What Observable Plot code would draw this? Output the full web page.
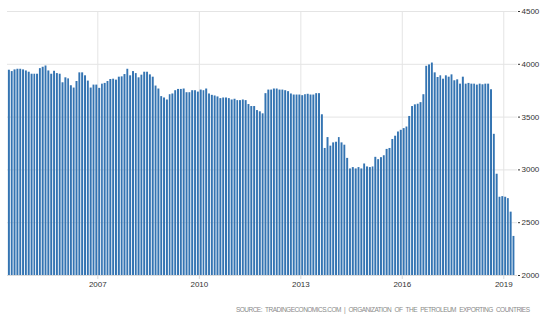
<!DOCTYPE html>
<html><head><meta charset="utf-8">
<script src="https://cdn.jsdelivr.net/npm/d3@7"></script>
<script src="https://cdn.jsdelivr.net/npm/@observablehq/plot@0.6"></script>
<style>
body{margin:0;background:#fff;}
#chart{position:relative;width:550px;height:324px;font-family:"Liberation Sans",Arial,sans-serif;}
#chart svg{display:block;}
</style>
</head><body><div id="chart"></div>
<script>
// Monthly values, first bar = May 2004, last bar = April 2019
const firstMonth = "2004-05-01";
const values2004to2009 = [
  3944,3931,3947,3953,3953,3947,3937,3925,3906,3906,
  3906,3959,3972,3984,3937,3906,3934,3912,3906,3825,
  3872,3862,3797,3775,3837,3919,3919,3891,3841,3775,
  3803,3803,3772,3812,3819,3837,3856,3859,3850,3878,
  3881,3903,3953,3891,3931,3912,3872,3897,3925,3925,
  3900,3878,3794,3766,3694,3681,3662,3712,3719,3750,
  3762,3762
];
const values2009to2013 = [
  3766,3731,3731,3750,3750,3737,3756,3750,3766,3719,
  3706,3700,3691,3675,3681,3681,3675,3662,3669,3656,
  3656,3662,3656,3619,3600,3600,3562,3550,3531,3722,
  3756,3756,3766,3766,3756,3756,3750,3741,3719,3709,
  3709,3709,3703,3712,3716,3709,3709,3722,3722
];
const values2013to2016 = [
  3522,3203,3306,3225,3256,3262,3306,3256,3234,3109,
  3009,3022,3009,3022,3009,3056,3028,3022,3028,3119,
  3097,3116,3134,3194,3203,3288,3319,3359,3375,3391,
  3406,3506,3600,3616,3622,3637,3712
];
const values2016to2019 = [
  3981,3994,4012,3919,3875,3891,3859,3891,3878,3900,
  3844,3853,3812,3878,3812,3819,3812,3812,3803,3812,
  3806,3812,3812,3759,3337,2959,2741,2747,2741,2728,
  2600,2370
];
const yTicks = [2000,2500,3000,3500,4000,4500];
const xTickYears = [2007,2010,2013,2016,2019];
const xDomain = ["2004-05-01","2019-05-29"];
const source = "SOURCE: TRADINGECONOMICS.COM | ORGANIZATION OF THE PETROLEUM EXPORTING COUNTRIES";

const values = [...values2004to2009, ...values2009to2013, ...values2013to2016, ...values2016to2019];
const start = new Date(firstMonth);
const data = values.map((v, i) => ({date: d3.utcMonth.offset(start, i), value: v}));
const xTicks = xTickYears.map(y => new Date(Date.UTC(y, 0, 1)));

const plot = Plot.plot({
  width: 550, height: 296,
  marginTop: 11, marginBottom: 21, marginLeft: 7, marginRight: 33,
  style: {fontFamily: '"Liberation Sans", Arial, sans-serif', fontSize: "8px", color: "#333", background: "#fff"},
  x: {type: "utc", domain: xDomain.map(d => new Date(d))},
  y: {domain: [yTicks[0], yTicks[yTicks.length - 1]]},
  marks: [
    Plot.gridY(yTicks, {stroke: "#e4e4e4", strokeOpacity: 1}),
    Plot.gridX(xTicks, {stroke: "#e4e4e4", strokeOpacity: 1}),
    Plot.rectY(data, {
      x1: "date", x2: d => d3.utcMonth.offset(d.date, 1), y: "value",
      fill: "#3474b2", insetLeft: 0.9, insetRight: 0, clip: true
    }),
    Plot.ruleY([yTicks[0]], {stroke: "#dcdcdc"}),
    Plot.axisY(yTicks, {anchor: "right", tickSize: 2, tickPadding: 2, stroke: "#333", fill: "#333", tickFormat: "d", label: null}),
    Plot.axisX(xTicks, {tickSize: 4, tickPadding: 2, stroke: "#d8d8d8", fill: "#333", tickFormat: d3.utcFormat("%Y"), label: null})
  ]
});
const chart = document.getElementById("chart");
chart.appendChild(plot);

const cap = d3.select(chart).append("svg").attr("width", 550).attr("height", 28);
cap.append("text")
  .attr("x", 530).attr("y", 16)
  .attr("text-anchor", "end")
  .attr("font-family", '"Liberation Sans", Arial, sans-serif')
  .attr("font-size", 6.5)
  .attr("word-spacing", 2)
  .attr("fill", "#8a8a8a")
  .attr("textLength", 294).attr("lengthAdjust", "spacing")
  .text(source);
</script>
</body></html>
